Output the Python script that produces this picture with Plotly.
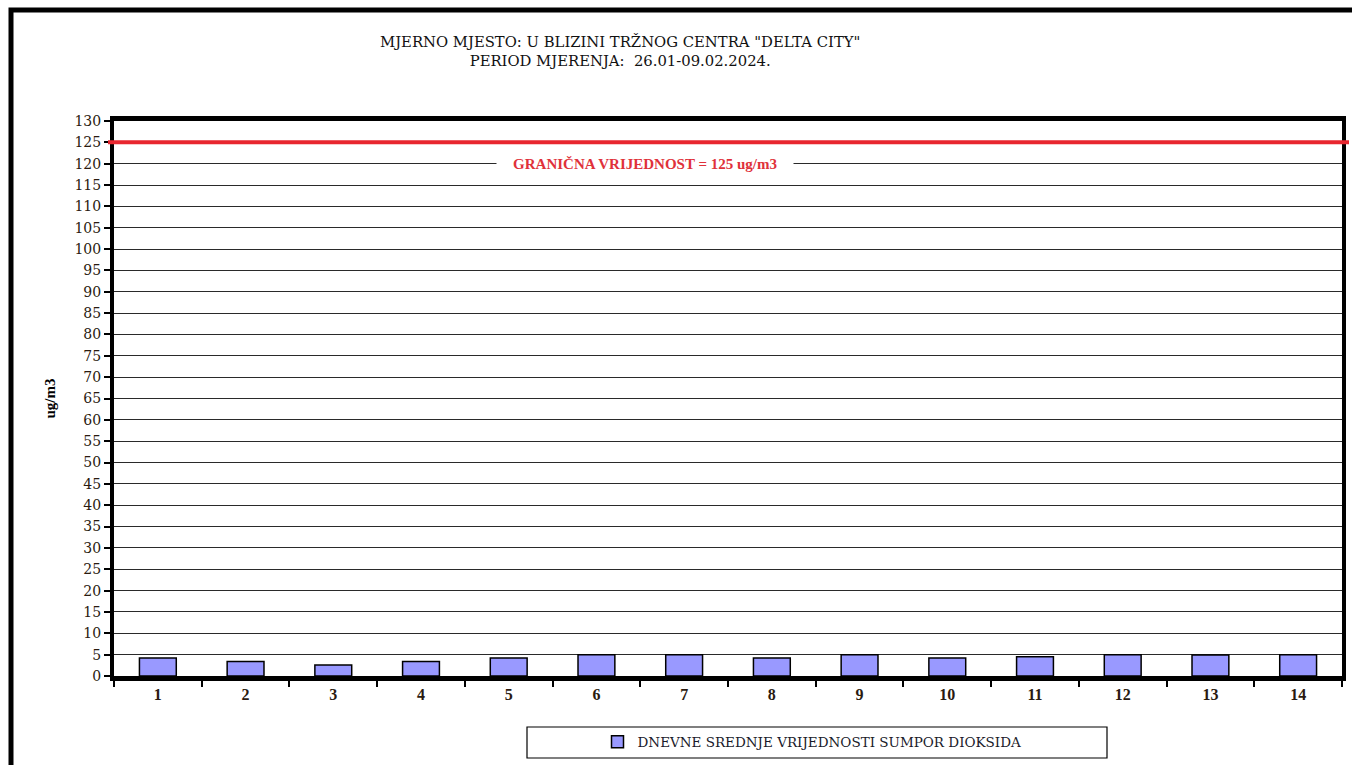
import plotly.graph_objects as go

days = ["1", "2", "3", "4", "5", "6", "7", "8", "9", "10", "11", "12", "13", "14"]
so2_values = [4.2, 3.4, 2.6, 3.4, 4.2, 5.0, 5.0, 4.2, 5.0, 4.2, 4.5, 5.0, 4.9, 5.0]
limit_value = 125
y_ticks = list(range(0, 131, 5))

title_lines = ['MJERNO MJESTO: U BLIZINI TRŽNOG CENTRA "DELTA CITY"',
               'PERIOD MJERENJA:  26.01-09.02.2024.']
limit_label = "GRANIČNA VRIJEDNOST = 125 ug/m3"
series_name = "DNEVNE SREDNJE VRIJEDNOSTI SUMPOR DIOKSIDA"

SERIF = "Liberation Serif, Times New Roman, serif"
DSERIF = "DejaVu Serif, serif"

W, H = 1352, 765
L, R, T, B = 114, 1342, 121, 676
pw, ph = R - L, B - T


def px(x):
    return (x - L) / pw


def py(y):
    return (B - y) / ph


fig = go.Figure()
fig.add_trace(go.Bar(
    x=days, y=so2_values, name=series_name,
    marker=dict(color="#9999FF", line=dict(color="#000000", width=1.5)),
    showlegend=True,
))

fig.update_layout(
    width=W, height=H,
    margin=dict(l=L, r=W - R, t=T, b=H - B, autoexpand=False),
    paper_bgcolor="white", plot_bgcolor="white",
    bargap=0.58,
    font=dict(family=SERIF, color="#000000"),
    showlegend=True,
    legend=dict(
        orientation="h", x=px(812), xanchor="center", y=py(742), yanchor="middle",
        font=dict(family=DSERIF, size=13.5, color="#1a1a2a"),
        bgcolor="rgba(0,0,0,0)", borderwidth=0,
        itemwidth=30,
    ),
    xaxis=dict(
        type="category", tickvals=days, ticktext=[f"<b>{d}</b>" for d in days],
        showline=True, linecolor="#000000", linewidth=5, mirror=True,
        ticks="outside", tickson="boundaries", ticklen=6, tickwidth=2, tickcolor="#000000",
        tickfont=dict(family=SERIF, size=16, color="#2a1a10"),
        showgrid=False, zeroline=False,
    ),
    yaxis=dict(
        range=[0, 130], tickvals=y_ticks, ticktext=[str(v) for v in y_ticks],
        showline=True, linecolor="#000000", linewidth=4, mirror=True,
        ticks="outside", ticklen=6, tickwidth=1.5, tickcolor="#000000",
        tickfont=dict(family=DSERIF, size=14, color="#2a1a10"),
        showgrid=True, gridcolor="#2a2a2a", gridwidth=1,
        zeroline=False,
        title=dict(text="<b>ug/m3</b>", font=dict(family=SERIF, size=15, color="#000000"), standoff=16),
    ),
)

# limit line
fig.add_shape(type="line", xref="paper", yref="y", x0=px(108), x1=px(1349),
              y0=limit_value, y1=limit_value, line=dict(color="#E8262F", width=4), layer="above")

# limit label
fig.add_annotation(xref="paper", yref="y", x=px(645), y=120, text=f"<b>{limit_label}</b>",
                   showarrow=False, font=dict(family=SERIF, size=15, color="#E0313A"),
                   bgcolor="white", borderpad=3, width=290, align="center")

# title
fig.add_annotation(xref="paper", yref="paper", x=px(620), y=py(31), yanchor="top",
                   text="<br>".join(title_lines), showarrow=False, align="center",
                   font=dict(family=DSERIF, size=14.8, color="#111111"))

# legend box
fig.add_shape(type="rect", xref="paper", yref="paper", x0=px(527), x1=px(1107),
              y0=py(758), y1=py(727), line=dict(color="#000000", width=1.2), layer="below")

# outer frame
fig.add_shape(type="path", xref="paper", yref="paper",
              path=f"M {px(11)} {py(770)} L {px(11)} {py(10)} L {px(1360)} {py(10)}",
              line=dict(color="#000000", width=5))

fig.write_html("out.html", config={"displayModeBar": False},
               post_script="document.body.style.margin='0';document.body.style.overflow='hidden';")
